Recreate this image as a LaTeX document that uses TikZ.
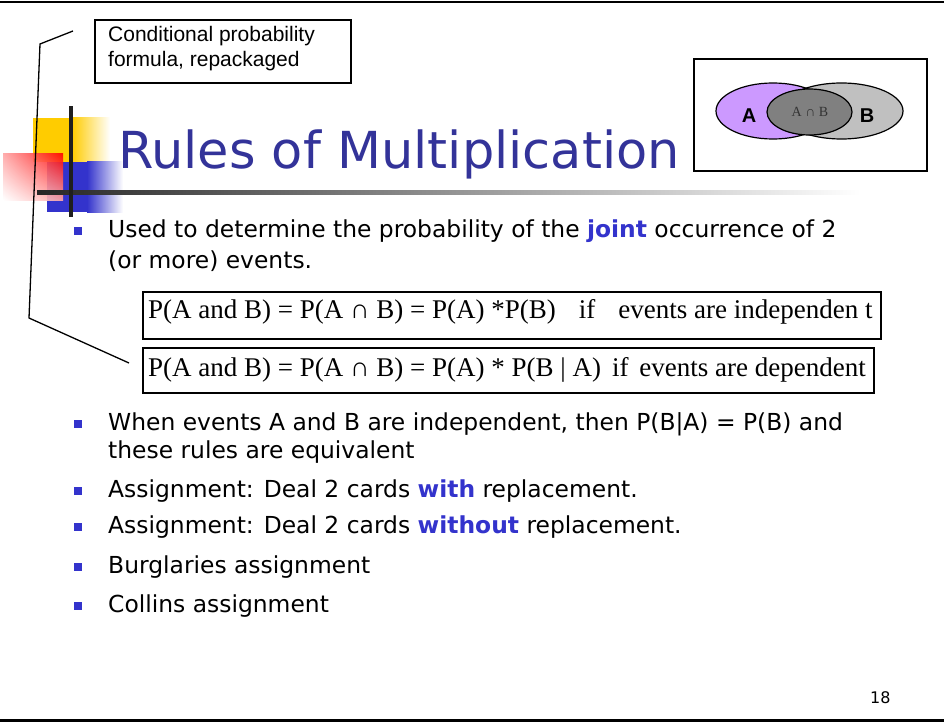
\documentclass[tikz,border=0pt]{standalone}
\usepackage{fontspec}
\setmainfont{DejaVu Sans}
\newfontfamily\arialf{Liberation Sans}
\newfontfamily\serf{Liberation Serif}
\usetikzlibrary{shadings}
\definecolor{titleblue}{HTML}{333399}
\definecolor{boldblue}{HTML}{3333CC}
\definecolor{bulblue}{HTML}{3333CC}
\definecolor{deco yellow}{HTML}{FFCC00}
\definecolor{deco blue}{HTML}{3333CC}
\definecolor{vennA}{HTML}{CC99FF}
\definecolor{vennB}{HTML}{C0C0C0}
\definecolor{vennAB}{HTML}{808080}
\tikzset{
  body/.style={anchor=base west, inner sep=0pt, font=\fontsize{23.4}{27}\selectfont},
  bul/.style={fill=bulblue, minimum size=8pt, inner sep=0pt},
  fbox/.style={draw, line width=1.6pt},
  fml/.style={anchor=base west, inner sep=0pt, font=\serf\fontsize{27}{30}\selectfont},
}
\begin{document}
\begin{tikzpicture}[x=1pt,y=-1pt]
\useasboundingbox (0,0) rectangle (944,722);
% page borders
\draw[line width=2.5pt] (0,2) -- (944,2);
\draw[line width=3pt] (0,720) -- (944,720);

% decoration
\fill[deco yellow] (33,118) rectangle (72,162);
\shade[left color=deco yellow, right color=white] (72,118) rectangle (110,162);
\fill[deco blue] (47,162) rectangle (87,212);
\shade[left color=deco blue, right color=white] (87,162) rectangle (123,212);
\shade[upper right=red, upper left=red!35, lower left=white, lower right=red!35, opacity=0.9] (3,154) rectangle (63,200);
\shade[left color=black!85, right color=white] (37,190) rectangle (860,194);
\fill[black!88] (69,106) rectangle (73,217);

% title
\node[anchor=base west, inner sep=0pt, text=titleblue, font=\fontsize{51}{55}\selectfont] (title) at (118,168) {Rules of Multiplication};

% callout
\node[draw, line width=1.6pt, anchor=north west, minimum width=256pt, minimum height=63pt, inner sep=0pt] (callout) at (94,19) {};
\node[anchor=base west, inner sep=0pt, font=\arialf\fontsize{21}{25}\selectfont] (cl1) at (108,42) {Conditional probability};
\node[anchor=base west, inner sep=0pt, font=\arialf\fontsize{21}{25}\selectfont] (cl2) at (108,67) {formula, repackaged};

% Venn box
\node[draw, line width=1.6pt, anchor=north west, minimum width=233pt, minimum height=112pt, inner sep=0pt] (vennbox) at (693,58) {};
\fill[vennA] (773,111) ellipse [x radius=57, y radius=28];
\fill[vennB] (841.5,111) ellipse [x radius=61.5, y radius=28];
\draw[line width=1.2pt] (773,111) ellipse [x radius=57, y radius=28];
\draw[line width=1.2pt] (841.5,111) ellipse [x radius=61.5, y radius=28];
\draw[line width=1.2pt, fill=vennAB] (809.5,112) ellipse [x radius=42.5, y radius=23];
\node[font=\arialf\bfseries\fontsize{20}{22}\selectfont] (lA) at (749,116) {A};
\node[font=\arialf\bfseries\fontsize{20}{22}\selectfont] (lB) at (867,116) {B};
\node[font=\serf\fontsize{14}{16}\selectfont, text=black!80] (lAB) at (810,112) {A ∩ B};

% bullet 1
\node[bul] (bu1) at (78,231) {};
\node[body] (t1a) at (108,237) {Used to determine the probability of the {\color{boldblue}\bfseries joint} occurrence of 2};
\node[body] (t1b) at (108,268) {(or more) events.};

% formula boxes
\node[fbox, anchor=north west, minimum width=738pt, minimum height=47pt, inner sep=0pt] (f1) at (142,291) {};
\node[fml] (f1t) at (148,318) {P(A and B) = P(A ∩ B) = P(A) *P(B)\hspace{23pt}if\hspace{23pt}events are independen t};
\node[fbox, anchor=north west, minimum width=731pt, minimum height=45pt, inner sep=0pt] (f2) at (142,347) {};
\node[fml] (f2t) at (148,376) {P(A and B) = P(A ∩ B) = P(A) * P(B | A)\hspace{11pt}if\hspace{11pt}events are dependent};

% bracket connector
\coordinate (c1) at (73,31);
\coordinate (c2) at (40,44);
\coordinate (c3) at (29,318);
\coordinate (c4) at (129,363);
\draw[line width=1.3pt] (c1) -- (c2) -- (c3) -- (c4);

% other bullets
\node[bul] (bu2) at (78,424) {};
\node[body] (t2a) at (108,430) {When events A and B are independent, then P(B|A) = P(B) and};
\node[body] (t2b) at (108,458) {these rules are equivalent};
\node[bul] (bu3) at (78,491) {};
\node[body] (t3) at (108,497) {Assignment: Deal 2 cards {\color{boldblue}\bfseries with} replacement.};
\node[bul] (bu4) at (78,527) {};
\node[body] (t4) at (108,533) {Assignment: Deal 2 cards {\color{boldblue}\bfseries without} replacement.};
\node[bul] (bu5) at (78,567) {};
\node[body] (t5) at (108,573) {Burglaries assignment};
\node[bul] (bu6) at (78,606) {};
\node[body] (t6) at (108,612) {Collins assignment};

% page number
\node[anchor=base west, inner sep=0pt, font=\fontsize{16}{18}\selectfont] (pg) at (870,703) {18};
\end{tikzpicture}
\end{document}
